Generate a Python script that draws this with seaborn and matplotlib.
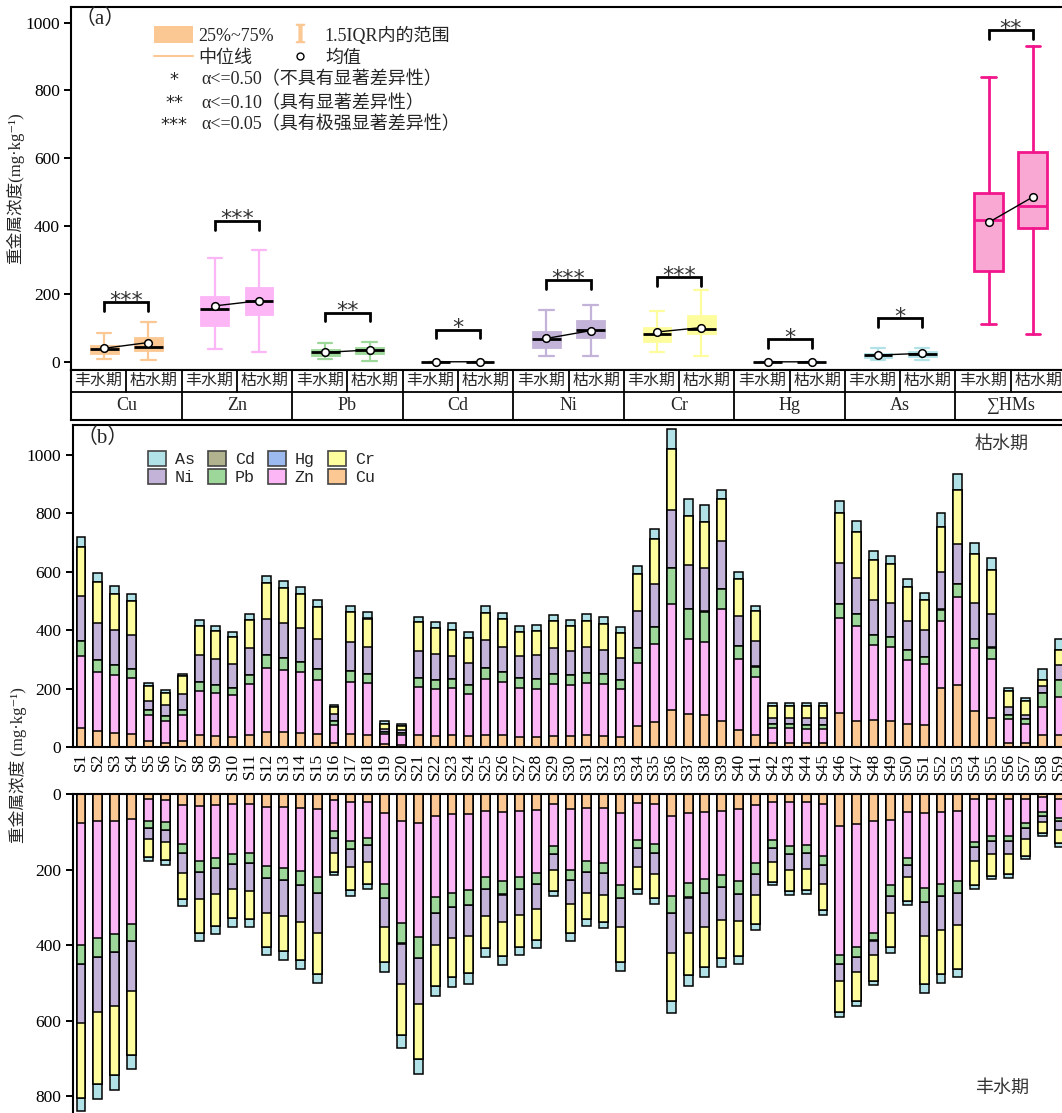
import numpy as np
import matplotlib
matplotlib.use("Agg")
import matplotlib.pyplot as plt
import seaborn as sns
from matplotlib.patches import Patch
from matplotlib.lines import Line2D

# ---------------------------------------------------------------- data
samples = [f"S{i}" for i in range(1, 60)]
metals = ["Cu", "Zn", "Pb", "Cd", "Ni", "Cr", "Hg", "As"]
groups = ["Cu", "Zn", "Pb", "Cd", "Ni", "Cr", "Hg", "As", "∑HMs"]
seasons = ["丰水期", "枯水期"]

# 枯水期 concentrations (mg/kg) per sampling site
cu_dry = [64, 56, 49, 44, 20, 15, 20, 40, 38, 35,
          42, 50, 50, 48, 45, 15, 45, 40, 10, 8,
          40, 38, 40, 38, 42, 40, 35, 35, 38, 38,
          40, 38, 33, 72, 85, 126, 113, 110, 89, 58,
          40, 15, 15, 12, 12, 116, 90, 92, 89, 80,
          75, 203, 212, 123, 98, 15, 12, 40, 40]
zn_dry = [247, 199, 197, 192, 90, 75, 90, 153, 146, 142,
          172, 221, 213, 207, 184, 60, 178, 178, 35, 32,
          166, 162, 161, 144, 191, 181, 168, 165, 177, 173,
          179, 176, 165, 216, 266, 362, 257, 250, 382, 243,
          201, 50, 50, 50, 50, 324, 323, 256, 252, 217,
          210, 229, 302, 214, 204, 80, 68, 96, 130]
pb_dry = [50, 41, 33, 32, 15, 15, 15, 28, 28, 24,
          31, 44, 41, 35, 38, 13, 36, 32, 7, 7,
          31, 29, 32, 31, 36, 34, 33, 33, 35, 34,
          35, 34, 32, 49, 60, 124, 103, 103, 68, 44,
          34, 13, 13, 14, 14, 48, 41, 36, 36, 34,
          24, 38, 44, 32, 38, 15, 15, 50, 60]
cd_dry = [0.42, 0.36, 0.33, 0.31, 0.12, 0.10, 0.14, 0.26, 0.25, 0.24,
          0.28, 0.35, 0.34, 0.33, 0.30, 0.09, 0.29, 0.28, 0.06, 0.05,
          0.27, 0.26, 0.27, 0.24, 0.30, 0.29, 0.26, 0.26, 0.28, 0.27,
          0.29, 0.28, 0.25, 0.38, 0.45, 0.68, 0.55, 0.54, 0.50, 0.36,
          0.30, 0.10, 0.10, 0.09, 0.09, 0.52, 0.48, 0.41, 0.40, 0.35,
          0.32, 0.50, 0.58, 0.42, 0.39, 0.12, 0.10, 0.17, 0.22]
ni_dry = [156, 129, 120, 114, 32, 39, 56, 95, 90, 82,
          94, 122, 119, 115, 103, 24, 99, 91, 10, 10,
          92, 88, 77, 73, 95, 87, 76, 82, 87, 83,
          86, 85, 75, 129, 145, 198, 150, 147, 166, 104,
          88, 22, 22, 22, 22, 140, 123, 118, 115, 99,
          91, 128, 135, 123, 114, 28, 15, 24, 49]
cr_dry = [166, 138, 125, 117, 53, 40, 60, 99, 93, 92,
          95, 123, 120, 118, 108, 23, 102, 98, 18, 16,
          97, 90, 90, 86, 93, 95, 82, 82, 93, 85,
          90, 88, 83, 124, 155, 208, 167, 158, 142, 124,
          102, 40, 40, 42, 43, 171, 158, 137, 134, 116,
          103, 154, 185, 167, 152, 55, 48, 19, 53]
hg_dry = [0.15, 0.13, 0.12, 0.11, 0.05, 0.04, 0.05, 0.10, 0.09, 0.09,
          0.10, 0.13, 0.12, 0.12, 0.11, 0.04, 0.11, 0.10, 0.03, 0.03,
          0.10, 0.10, 0.10, 0.09, 0.11, 0.10, 0.09, 0.09, 0.10, 0.10,
          0.10, 0.10, 0.09, 0.14, 0.16, 0.24, 0.19, 0.19, 0.18, 0.13,
          0.11, 0.04, 0.04, 0.04, 0.04, 0.18, 0.17, 0.15, 0.14, 0.13,
          0.12, 0.18, 0.20, 0.15, 0.14, 0.05, 0.04, 0.06, 0.08]
as_dry = [36, 33, 25, 25, 10, 11, 9, 19, 19, 19,
          20, 25, 25, 22, 23, 9, 22, 21, 8, 7,
          17, 19, 23, 22, 26, 22, 21, 21, 22, 22,
          24, 22, 21, 29, 33, 69, 57, 59, 32, 24,
          17, 10, 9, 10, 10, 40, 37, 29, 28, 28,
          22, 49, 53, 37, 41, 10, 8, 38, 38]

# 丰水期 concentrations (mg/kg) per sampling site
cu_wet = [76, 72, 71, 66, 14, 16, 28, 31, 28, 27,
          27, 34, 35, 38, 41, 16, 21, 20, 50, 71,
          78, 57, 54, 53, 46, 48, 45, 42, 27, 41,
          36, 38, 50, 25, 27, 57, 50, 48, 45, 39,
          29, 20, 22, 22, 27, 85, 80, 72, 69, 49,
          50, 47, 46, 13, 12, 12, 13, 9, 12]
zn_wet = [324, 310, 300, 279, 57, 59, 104, 146, 141, 132,
          128, 156, 160, 167, 180, 83, 104, 97, 189, 272,
          300, 217, 207, 202, 174, 183, 174, 166, 111, 159,
          142, 144, 190, 98, 106, 212, 185, 176, 169, 191,
          155, 103, 116, 114, 136, 342, 326, 295, 172, 120,
          200, 191, 184, 113, 99, 98, 65, 40, 52]
pb_wet = [51, 49, 48, 45, 18, 21, 24, 30, 27, 27,
          27, 32, 32, 35, 40, 18, 21, 19, 37, 53,
          57, 40, 39, 40, 32, 35, 32, 31, 21, 28,
          28, 28, 36, 20, 22, 45, 39, 37, 33, 35,
          29, 20, 20, 21, 26, 24, 25, 21, 28, 18,
          35, 31, 31, 14, 14, 14, 13, 8, 8]
cd_wet = [0.38, 0.36, 0.35, 0.33, 0.08, 0.09, 0.14, 0.20, 0.19, 0.18,
          0.18, 0.22, 0.23, 0.24, 0.26, 0.10, 0.13, 0.12, 0.25, 0.35,
          0.38, 0.27, 0.26, 0.26, 0.22, 0.23, 0.22, 0.21, 0.14, 0.20,
          0.18, 0.18, 0.24, 0.13, 0.14, 0.28, 0.25, 0.24, 0.23, 0.22,
          0.18, 0.12, 0.13, 0.13, 0.16, 0.30, 0.29, 0.26, 0.21, 0.15,
          0.26, 0.25, 0.24, 0.12, 0.11, 0.11, 0.09, 0.05, 0.07]
ni_wet = [154, 145, 141, 131, 30, 30, 52, 71, 69, 65,
          75, 92, 95, 100, 108, 38, 48, 44, 76, 108,
          120, 87, 82, 80, 70, 72, 69, 66, 43, 63,
          55, 57, 75, 51, 56, 108, 95, 91, 87, 71,
          55, 37, 42, 42, 50, 45, 41, 37, 46, 34,
          91, 90, 87, 37, 35, 34, 28, 18, 22]
cr_wet = [199, 191, 184, 171, 47, 50, 71, 89, 84, 78,
          75, 90, 94, 100, 107, 51, 61, 59, 94, 133,
          146, 107, 102, 100, 85, 90, 85, 81, 54, 76,
          69, 71, 93, 57, 64, 126, 111, 105, 100, 93,
          76, 52, 58, 56, 67, 81, 77, 70, 90, 62,
          126, 117, 114, 63, 56, 55, 45, 28, 37]
hg_wet = [0.14, 0.13, 0.13, 0.12, 0.03, 0.03, 0.05, 0.07, 0.07, 0.06,
          0.06, 0.08, 0.08, 0.09, 0.09, 0.04, 0.05, 0.04, 0.09, 0.12,
          0.13, 0.09, 0.09, 0.09, 0.08, 0.08, 0.08, 0.07, 0.05, 0.07,
          0.06, 0.06, 0.08, 0.05, 0.05, 0.10, 0.09, 0.09, 0.08, 0.08,
          0.06, 0.04, 0.05, 0.05, 0.06, 0.11, 0.10, 0.09, 0.08, 0.05,
          0.09, 0.09, 0.08, 0.04, 0.04, 0.04, 0.03, 0.02, 0.03]
as_wet = [36, 41, 40, 37, 12, 13, 18, 23, 21, 22,
          20, 23, 24, 23, 25, 9, 14, 13, 24, 35,
          39, 27, 26, 27, 24, 25, 22, 21, 15, 21,
          19, 18, 25, 14, 15, 31, 27, 27, 25, 21,
          15, 10, 10, 11, 14, 13, 13, 10, 15, 11,
          24, 23, 23, 12, 10, 10, 9, 7, 8]

dry = {"Cu": cu_dry, "Zn": zn_dry, "Pb": pb_dry, "Cd": cd_dry,
       "Ni": ni_dry, "Cr": cr_dry, "Hg": hg_dry, "As": as_dry}
wet = {"Cu": cu_wet, "Zn": zn_wet, "Pb": pb_wet, "Cd": cd_wet,
       "Ni": ni_wet, "Cr": cr_wet, "Hg": hg_wet, "As": as_wet}

# box statistics per element: [Cu, Zn, Pb, Cd, Ni, Cr, Hg, As, ∑HMs]
wet_whislo = [8, 39, 7, 0.05, 17, 29, 0.02, 5, 111]
wet_q1 = [24, 106, 18, 0.15, 40, 60, 0.06, 12, 268]
wet_med = [37, 157, 28, 0.20, 67, 82, 0.09, 20, 418]
wet_q3 = [50, 193, 37, 0.28, 90, 104, 0.12, 26, 499]
wet_whishi = [84, 307, 57, 0.45, 154, 149, 0.20, 40, 841]
wet_mean = [40, 165, 28, 0.21, 69, 88, 0.09, 20, 411]

dry_whislo = [6, 28, 4, 0.05, 17, 17, 0.03, 5, 81]
dry_q1 = [33, 137, 24, 0.20, 70, 81, 0.08, 15, 394]
dry_med = [44, 178, 34, 0.28, 94, 98, 0.11, 22, 460]
dry_q3 = [73, 220, 43, 0.35, 124, 139, 0.15, 32, 618]
dry_whishi = [118, 329, 60, 0.60, 169, 212, 0.24, 40, 930]
dry_mean = [57, 180, 35, 0.29, 92, 101, 0.12, 25, 486]

sig_stars = ["***", "***", "**", "*", "***", "***", "*", "*", "**"]
bracket_top = [177, 416, 145, 95, 240, 250, 66, 130, 978]

# ---------------------------------------------------------------- style
metal_colors = {"Cu": "#FBC894", "Zn": "#FCB6F6", "Pb": "#9ED79A",
                "Cd": "#B0B38E", "Ni": "#C4B3D8", "Cr": "#FEFD9E",
                "Hg": "#9DBAF0", "As": "#B1E2E7"}
sum_face, sum_edge = "#F9A8D3", "#F2168C"

sns.set_theme(style="ticks")
plt.rcParams["font.family"] = ["Liberation Serif", "Noto Sans CJK SC", "DejaVu Sans"]
plt.rcParams["mathtext.fontset"] = "stix"
plt.rcParams["axes.unicode_minus"] = False
plt.rcParams["axes.linewidth"] = 1.5
plt.rcParams["xtick.major.width"] = 1.4
plt.rcParams["ytick.major.width"] = 1.4
plt.rcParams["ytick.major.size"] = 5
plt.rcParams["ytick.labelsize"] = 12.5
plt.rcParams["xtick.labelsize"] = 12.5
plt.rcParams["axes.edgecolor"] = "black"
plt.rcParams["xtick.color"] = "black"
plt.rcParams["ytick.color"] = "black"

W, H = 1062, 1113
fig = plt.figure(figsize=(W / 100, H / 100), dpi=100)


def rect(l, t, r, b):
    return [l / W, 1 - b / H, (r - l) / W, (b - t) / H]


ax_a = fig.add_axes(rect(71, 7, 1066, 370))
ax_t = fig.add_axes(rect(71, 370, 1066, 420))
ax_b1 = fig.add_axes(rect(72.6, 425, 1067.5, 747))
ax_b2 = fig.add_axes(rect(72.6, 794, 1067.5, 1113))

# ---------------------------------------------------------------- (a) boxes
stats, pos = [], []
for i in range(len(groups)):
    stats.append(dict(whislo=wet_whislo[i], q1=wet_q1[i], med=wet_med[i],
                      q3=wet_q3[i], whishi=wet_whishi[i], mean=wet_mean[i], fliers=[]))
    pos.append(i - 0.2)
    stats.append(dict(whislo=dry_whislo[i], q1=dry_q1[i], med=dry_med[i],
                      q3=dry_q3[i], whishi=dry_whishi[i], mean=dry_mean[i], fliers=[]))
    pos.append(i + 0.2)

art = ax_a.bxp(stats, positions=pos, widths=0.26, capwidths=0.13, patch_artist=True,
               showfliers=False, showmeans=False, manage_ticks=False)
for k, box in enumerate(art["boxes"]):
    g = groups[k // 2]
    if g == "∑HMs":
        face, edge, blw, wlw, mcol = sum_face, sum_edge, 2.0, 2.0, sum_edge
    else:
        face = edge = metal_colors[g]
        blw, wlw, mcol = 0.6, 1.6, "black"
    box.set(facecolor=face, edgecolor=edge, linewidth=blw)
    for ln in art["whiskers"][2 * k:2 * k + 2] + art["caps"][2 * k:2 * k + 2]:
        ln.set(color=edge, linewidth=wlw)
    art["medians"][k].set(color=mcol, linewidth=2.0)

for i in range(len(groups)):
    ax_a.plot([i - 0.2, i + 0.2], [wet_mean[i], dry_mean[i]], color="black", lw=1.0,
              marker="o", ms=5.5, mfc="white", mec="black", mew=1.1, zorder=6)
    x0, x1, top = i - 0.2, i + 0.2, bracket_top[i]
    ax_a.plot([x0, x0, x1, x1], [top - 26, top, top, top - 26], color="black", lw=2.0,
              solid_joinstyle="miter", zorder=6)
    ax_a.text(i, top - 14, sig_stars[i], ha="center", va="baseline", fontsize=16,
              color="#333333", family="DejaVu Sans")

ax_a.set_xlim(-0.5, 8.5)
ax_a.set_ylim(-24, 1046)
ax_a.set_yticks(range(0, 1001, 200))
ax_a.tick_params(axis="x", bottom=False, labelbottom=False)
ax_a.tick_params(axis="y", direction="out", length=5, pad=3)
ax_a.set_ylabel("重金属浓度(mg·kg⁻¹)", fontsize=12, labelpad=1)
ax_a.text(0.004, 0.995, "（a）", transform=ax_a.transAxes, ha="left", va="top", fontsize=15)

legend_color = metal_colors["Cu"]
h_box = Patch(facecolor=legend_color, edgecolor="none")
h_med = Line2D([], [], color=legend_color, lw=1.5)
h_iqr = Line2D([], [], color=legend_color, marker="$\\mathrm{I}$", ls="none", ms=13)
h_mean = Line2D([], [], color="black", marker="o", mfc="white", mec="black", ls="none", ms=5)
ax_a.legend([h_box, h_med, h_iqr, h_mean], ["25%~75%", "中位线", "1.5IQR内的范围", "均值"],
            ncol=2, loc="upper left", bbox_to_anchor=(0.083, 0.948), frameon=False,
            fontsize=13, handlelength=2.2, handleheight=1.1, handletextpad=0.3,
            columnspacing=0.3, labelspacing=0.2, borderpad=0, borderaxespad=0)

sig_legend = [("*", "α<=0.50（不具有显著差异性）"),
              ("**", "α<=0.10（具有显著差异性）"),
              ("***", "α<=0.05（具有极强显著差异性）")]
for (st, txt), yy in zip(sig_legend, (0.799, 0.735, 0.675)):
    ax_a.text(0.1035, yy, st, transform=ax_a.transAxes, ha="center", va="center",
              fontsize=13, family="DejaVu Sans")
    ax_a.text(0.1307, yy, txt, transform=ax_a.transAxes, ha="left", va="center", fontsize=13)

# ---------------------------------------------------------------- category table
ax_t.set_xlim(-0.5, 8.5)
ax_t.set_ylim(0, 50)
ax_t.set_xticks([])
ax_t.set_yticks([])
ax_t.axhline(28, color="black", lw=1.3)
for i in range(len(groups)):
    ax_t.plot([i, i], [28, 50], color="black", lw=1.3)
    ax_t.text(i - 0.25, 39, seasons[0], ha="center", va="center", fontsize=11.5)
    ax_t.text(i + 0.25, 39, seasons[1], ha="center", va="center", fontsize=11.5)
    ax_t.text(i, 14, groups[i], ha="center", va="center", fontsize=13)
for i in range(len(groups) + 1):
    ax_t.axvline(i - 0.5, color="black", lw=1.3)

# ---------------------------------------------------------------- (b) stacked bars


def stacked(ax, table):
    vals = np.array([table[m] for m in metals], dtype=float)
    cum = np.cumsum(vals, axis=0)
    for k in range(len(metals) - 1, -1, -1):
        sns.barplot(x=samples, y=cum[k], order=samples, color=metal_colors[metals[k]],
                    saturation=1, width=0.53, edgecolor="black", linewidth=1.1,
                    errorbar=None, ax=ax)


stacked(ax_b1, dry)
stacked(ax_b2, wet)

ax_b1.set_xlim(-0.5, 58.5)
ax_b1.set_ylim(0, 1101)
ax_b1.set_yticks(range(0, 1001, 200))
ax_b1.set_xticks(range(len(samples)))
ax_b1.set_xticklabels(samples, rotation=90)
ax_b1.tick_params(axis="x", length=0, pad=4)
ax_b1.tick_params(axis="y", direction="out", length=5, pad=3)
ax_b1.set_xlabel("")
ax_b1.set_ylabel("")

ax_b2.set_xlim(-0.5, 58.5)
ax_b2.set_ylim(0, 845)
ax_b2.invert_yaxis()
ax_b2.set_yticks(range(0, 801, 200))
ax_b2.set_xticks([])
ax_b2.tick_params(axis="y", direction="out", length=5, pad=3)
ax_b2.spines["bottom"].set_visible(False)
ax_b2.set_xlabel("")
ax_b2.set_ylabel("")

ax_b1.text(0.004, 0.99, "（b）", transform=ax_b1.transAxes, ha="left", va="top", fontsize=15)
ax_b1.text(0.934, 0.94, "枯水期", transform=ax_b1.transAxes, ha="center", va="center",
           fontsize=13, color="#333333")
ax_b2.text(0.934, 0.078, "丰水期", transform=ax_b2.transAxes, ha="center", va="center",
           fontsize=13, color="#333333")

leg_order = ["As", "Ni", "Cd", "Pb", "Hg", "Zn", "Cr", "Cu"]
leg_handles = [Patch(facecolor=metal_colors[m], edgecolor="#444444", lw=1.2) for m in leg_order]
ax_b1.legend(leg_handles, leg_order, ncol=4, loc="upper left",
             bbox_to_anchor=((148 - 72.6) / 995, (747 - 451) / 322), frameon=False,
             prop={"family": "Liberation Mono", "size": 12}, handlelength=1.1,
             handleheight=1.0, handletextpad=0.5, columnspacing=0.8, labelspacing=0.12,
             borderpad=0, borderaxespad=0)

fig.text(18 / W, 1 - 765 / H, "重金属浓度 (mg·kg⁻¹)", rotation=90, ha="center",
         va="center", fontsize=12)

fig.savefig("out.png", dpi=100)
